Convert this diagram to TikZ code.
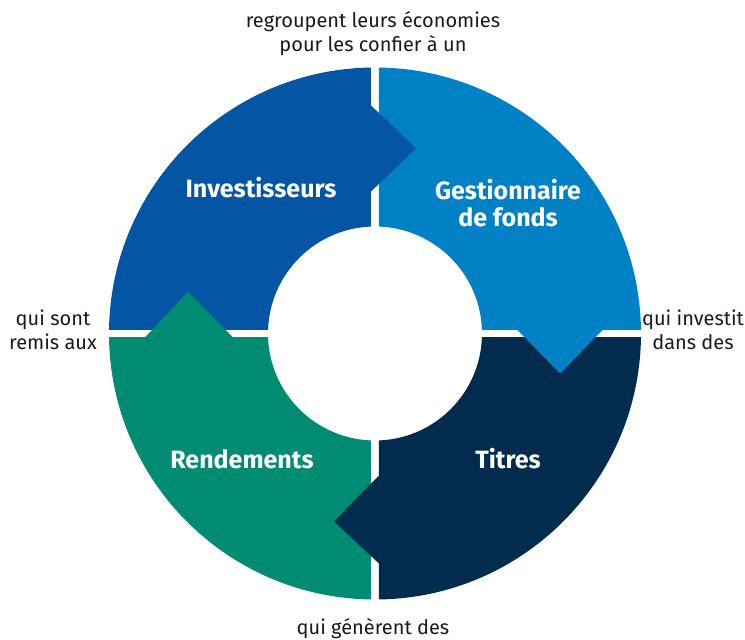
\documentclass[tikz,border=0pt]{standalone}
\usepackage{fontspec}
\setmainfont{Fira Sans}
\usetikzlibrary{positioning}

\definecolor{investblue}{HTML}{0455A4}
\definecolor{fundblue}{HTML}{0081C6}
\definecolor{titresnavy}{HTML}{022C4E}
\definecolor{rendgreen}{HTML}{008C73}
\definecolor{labelgray}{HTML}{1A1A1A}

\begin{document}
\begin{tikzpicture}[x=1pt, y=1pt,
  stage/.style={align=center, text=white, font=\bfseries\fontsize{25}{27}\selectfont},
  flow/.style={align=center, text=labelgray, font=\fontsize{20}{24}\selectfont}]
\useasboundingbox (-375,-306.5) rectangle (370,333.5);

% ring quarters
\begin{scope}
\clip (-4,4) rectangle (-280,280);
\fill[investblue, even odd rule] (0,0) circle (266) (0,0) circle (107);
\end{scope}
\begin{scope}
\clip (4,4) rectangle (280,280);
\fill[fundblue, even odd rule] (0,0) circle (266) (0,0) circle (107);
\end{scope}
\begin{scope}
\clip (4,-4) rectangle (280,-280);
\fill[titresnavy, even odd rule] (0,0) circle (266) (0,0) circle (107);
\end{scope}
\begin{scope}
\clip (-4,-4) rectangle (-280,-280);
\fill[rendgreen, even odd rule] (0,0) circle (266) (0,0) circle (107);
\end{scope}

% arrow heads
\fill[investblue] (-5,229) -- (41,185) -- (-5,141) -- cycle;
\fill[fundblue] (229,5) -- (185,-40) -- (141,5) -- cycle;
\fill[titresnavy] (5,-141) -- (-41,-188) -- (5,-231) -- cycle;
\fill[rendgreen] (-141,-5) -- (-187,42) -- (-231,-5) -- cycle;

% -------------------------------

\node (investors) [stage] at (-114,145.5) {Investisseurs};
\node (manager) [stage] at (133,130) {Gestionnaire\\de fonds};
\node (securities) [stage] at (133,-125.5) {Titres};
\node (returns) [stage] at (-133,-125.5) {Rendements};

\node (pool) [flow] at (-2,299.5) {regroupent leurs économies\\pour les confier à un};
\node (invest) [flow] at (318,3.5) {qui investit\\dans des};
\node (yield) [flow] at (-2,-295.5) {qui génèrent des};
\node (handed) [flow] at (-322,3.5) {qui sont\\remis aux};
\end{tikzpicture}
\end{document}
